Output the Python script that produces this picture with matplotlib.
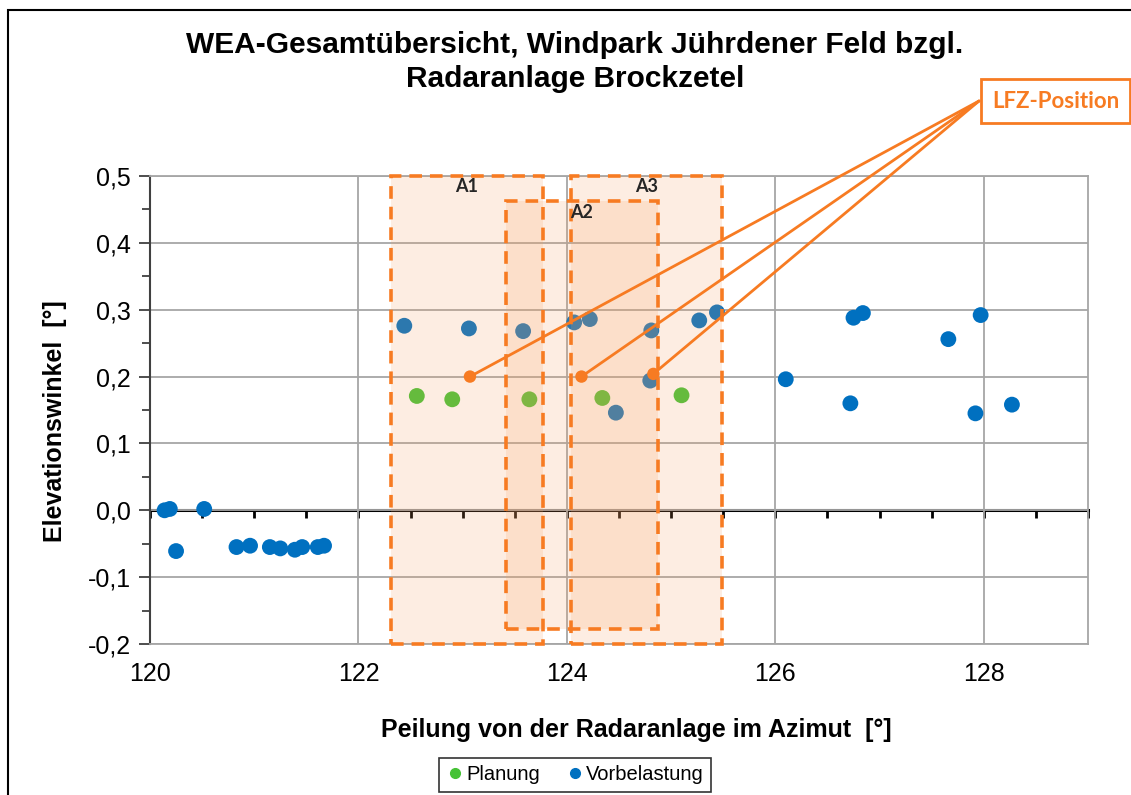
import matplotlib.pyplot as plt
from matplotlib.patches import Rectangle
from matplotlib.lines import Line2D
from matplotlib.ticker import MultipleLocator, FuncFormatter

# ----------------------------
# Daten
# ----------------------------
planung_x = [122.56, 122.90, 123.64, 124.34, 125.10]
planung_y = [0.171, 0.166, 0.166, 0.168, 0.172]

vorbel_x = [120.14, 120.19, 120.52, 120.25, 120.83, 120.96, 121.15, 121.25,
            121.39, 121.46, 121.61, 121.67, 122.44, 123.06, 123.58, 124.07,
            124.22, 124.81, 124.80, 124.47, 125.27, 125.44, 126.10, 126.75,
            126.84, 126.72, 127.66, 127.97, 127.92, 128.27]
vorbel_y = [0.000, 0.002, 0.002, -0.061, -0.055, -0.053, -0.055, -0.057,
            -0.059, -0.055, -0.055, -0.053, 0.276, 0.272, 0.268, 0.281,
            0.286, 0.269, 0.194, 0.146, 0.284, 0.296, 0.196, 0.288,
            0.295, 0.160, 0.256, 0.292, 0.145, 0.158]

# LFZ-Positionen
lfz_x = [123.07, 124.14, 124.83]
lfz_y = [0.200, 0.200, 0.204]

# Bereiche A1..A3
area_names = ["A1", "A2", "A3"]
area_x0 = [122.31, 123.42, 124.04]
area_x1 = [123.77, 124.87, 125.49]
area_y0 = [-0.200, -0.177, -0.200]
area_y1 = [0.500, 0.462, 0.500]

BLUE = "#0070C0"
GREEN = "#45C236"
ORANGE = "#F77B22"
FILL = "#F8A060"

W, H = 1131, 795
fig = plt.figure(figsize=(W / 100, H / 100), dpi=100)
ax = fig.add_axes([150 / W, 1 - 644 / H, (1088 - 150) / W, (644 - 176) / H])

ax.set_xlim(120, 129)
ax.set_ylim(-0.2, 0.5)

# Gitter
ax.xaxis.set_major_locator(MultipleLocator(2))
ax.yaxis.set_major_locator(MultipleLocator(0.1))
ax.yaxis.set_minor_locator(MultipleLocator(0.05))
ax.grid(True, which="major", color="#A6A6A6", lw=1.3, zorder=0)
ax.set_axisbelow(True)

for s in ["top", "right", "bottom"]:
    ax.spines[s].set_color("#A6A6A6")
    ax.spines[s].set_linewidth(1.3)
ax.spines["left"].set_color("#404040")
ax.spines["left"].set_linewidth(1.5)

ax.tick_params(axis="y", which="major", length=8, width=1.3, color="#404040",
               labelsize=18, pad=6)
ax.tick_params(axis="y", which="minor", length=6, width=1.3, color="#404040")
ax.tick_params(axis="x", which="both", length=0, labelsize=18, pad=13)
ax.yaxis.set_major_formatter(FuncFormatter(lambda v, p: f"{v:.1f}".replace(".", ",")))

# Nulllinie mit Teilstrichen
sec = ax.secondary_xaxis(0, transform=ax.transData)
sec.spines["bottom"].set_color("black")
sec.spines["bottom"].set_linewidth(2.2)
sec.xaxis.set_major_locator(MultipleLocator(2))
sec.xaxis.set_minor_locator(MultipleLocator(0.5))
sec.tick_params(which="both", length=6, width=2, color="black", labelbottom=False)

# Punkte
ax.scatter(vorbel_x, vorbel_y, s=130, color=BLUE, edgecolors="none", zorder=3)
ax.scatter(planung_x, planung_y, s=130, color=GREEN, edgecolors="none", zorder=3)

# Bereiche
for name, x0, x1, y0, y1 in zip(area_names, area_x0, area_x1, area_y0, area_y1):
    ax.add_patch(Rectangle((x0, y0), x1 - x0, y1 - y0, facecolor=FILL, alpha=0.18,
                           edgecolor="none", zorder=4, clip_on=False))
    ax.add_patch(Rectangle((x0, y0), x1 - x0, y1 - y0, facecolor="none",
                           edgecolor=ORANGE, lw=2.6, ls=(0, (3.5, 2.2)),
                           zorder=5, clip_on=False))
    ax.text((x0 + x1) / 2, y1 - 0.016, name, ha="center", va="center",
            fontsize=13, fontweight="bold", color="#262626", family="Lato", zorder=6)

# LFZ-Position Kasten + Linien
box_fx, box_fy = 979 / W, 1 - 101 / H
fig.text(992 / W, box_fy, "LFZ-Position", ha="left", va="center", fontsize=16,
         fontweight="bold", color=ORANGE, family="Lato",
         bbox=dict(boxstyle="square,pad=0.5", fc="white", ec=ORANGE, lw=2))
for x, y in zip(lfz_x, lfz_y):
    ax.annotate("", xy=(x, y), xytext=(box_fx, box_fy), textcoords="figure fraction",
                arrowprops=dict(arrowstyle="-", color=ORANGE, lw=2, shrinkA=0, shrinkB=0),
                annotation_clip=False, zorder=7)
ax.scatter(lfz_x, lfz_y, s=80, color=ORANGE, edgecolors="none", zorder=8)

# Titel / Achsenbeschriftung
fig.text(575 / W, 1 - 45 / H, "WEA-Gesamtübersicht, Windpark Jührdener Feld bzgl.",
         ha="center", va="center", fontsize=21.5, fontweight="bold", family="Liberation Sans")
fig.text(575 / W, 1 - 79 / H, "Radaranlage Brockzetel",
         ha="center", va="center", fontsize=21.5, fontweight="bold", family="Liberation Sans")
fig.text(636 / W, 1 - 730 / H, "Peilung von der Radaranlage im Azimut  [°]",
         ha="center", va="center", fontsize=18, fontweight="bold", family="Liberation Sans")
fig.text(55 / W, 1 - 421 / H, "Elevationswinkel  [°]", rotation=90,
         ha="center", va="center", fontsize=18, fontweight="bold", family="Liberation Sans")

for lab in ax.get_xticklabels() + ax.get_yticklabels():
    lab.set_family("Liberation Sans")

# Legende
handles = [
    Line2D([], [], ls="none", marker="o", ms=7, color=GREEN, label="Planung"),
    Line2D([], [], ls="none", marker="o", ms=7, color=BLUE, label="Vorbelastung"),
]
leg = fig.legend(handles=handles, loc="center", bbox_to_anchor=(575 / W, 1 - 775 / H),
                 ncol=2, frameon=True, fancybox=False, edgecolor="black",
                 handletextpad=0.1, columnspacing=1.3, handlelength=0.9,
                 borderpad=0.35, prop={"family": "Liberation Sans", "size": 14.5})
leg.get_frame().set_linewidth(1.2)

# Rahmen um das Diagramm
fig.add_artist(Rectangle((8 / W, -0.05), 1.1, 1 - 10 / H + 0.05, transform=fig.transFigure,
                         fill=False, edgecolor="black", lw=1.5))

plt.savefig("out.png", dpi=100)
